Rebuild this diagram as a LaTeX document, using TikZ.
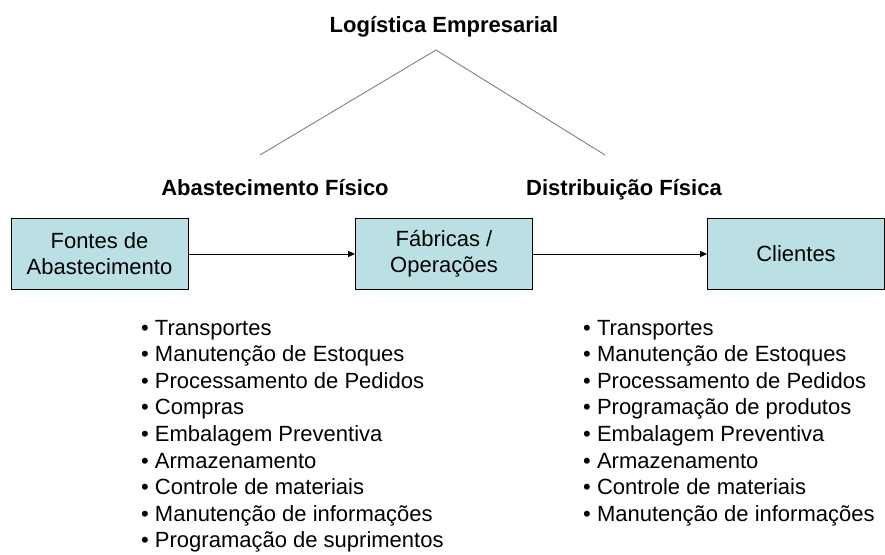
\documentclass[tikz,border=0pt]{standalone}
\usepackage{fontspec}
\setmainfont{Liberation Sans}
\usepackage{tikz}
\usetikzlibrary{positioning, arrows.meta}
\definecolor{BoxFill}{HTML}{BBE0E3}
\definecolor{LineGray}{HTML}{7F7F7F}

\begin{document}
\begin{tikzpicture}[
  x=1pt, y=1pt,
  >={Triangle[length=7pt, width=6pt]},
  box/.style={draw=black, fill=BoxFill, line width=0.9pt, inner sep=0pt,
              minimum width=177pt, minimum height=71pt, align=center,
              font=\fontsize{22}{26}\selectfont},
  flow/.style={->, line width=0.9pt, color=black},
  titulo/.style={font=\fontsize{22}{26}\selectfont\bfseries, anchor=base, inner sep=0pt},
  item/.style={font=\fontsize{22}{27}\selectfont, anchor=base west, inner sep=0pt},
]
  \useasboundingbox (0,0) rectangle (885,-554);

  % Title and its two branches
  \node[titulo] (logistica) at (444,-32) {Logística Empresarial};
  \coordinate (topo) at (436,-50);
  \coordinate (ramoE) at (260,-155);
  \coordinate (ramoD) at (605,-155);
  \draw[color=LineGray, line width=0.9pt] (ramoE) -- (topo) -- (ramoD);

  \node[titulo] (abast) at (275,-195) {Abastecimento Físico};
  \node[titulo] (distr) at (624,-195) {Distribuição Física};

  % The three boxes
  \node[box] (fontes) at (99.5,-254) {Fontes de\\Abastecimento};
  \node[box] (fabricas) at (444,-254) {Fábricas /\\Operações};
  \node[box] (clientes) at (796,-254) {Clientes};

  \draw[flow] (fontes) -- (fabricas);
  \draw[flow] (fabricas) -- (clientes);

  % Activities of physical supply
  \foreach \txt [count=\i] in {Transportes, Manutenção de Estoques,
      Processamento de Pedidos, Compras, Embalagem Preventiva,
      Armazenamento, Controle de materiais, Manutenção de informações,
      Programação de suprimentos}
    \node[item] (abast-\i) at (141,-335-26.6*\i+26.6) {•\ \txt};

  % Activities of physical distribution
  \foreach \txt [count=\i] in {Transportes, Manutenção de Estoques,
      Processamento de Pedidos, Programação de produtos,
      Embalagem Preventiva, Armazenamento, Controle de materiais,
      Manutenção de informações}
    \node[item] (distr-\i) at (583,-335-26.6*\i+26.6) {•\ \txt};

\end{tikzpicture}
\end{document}
